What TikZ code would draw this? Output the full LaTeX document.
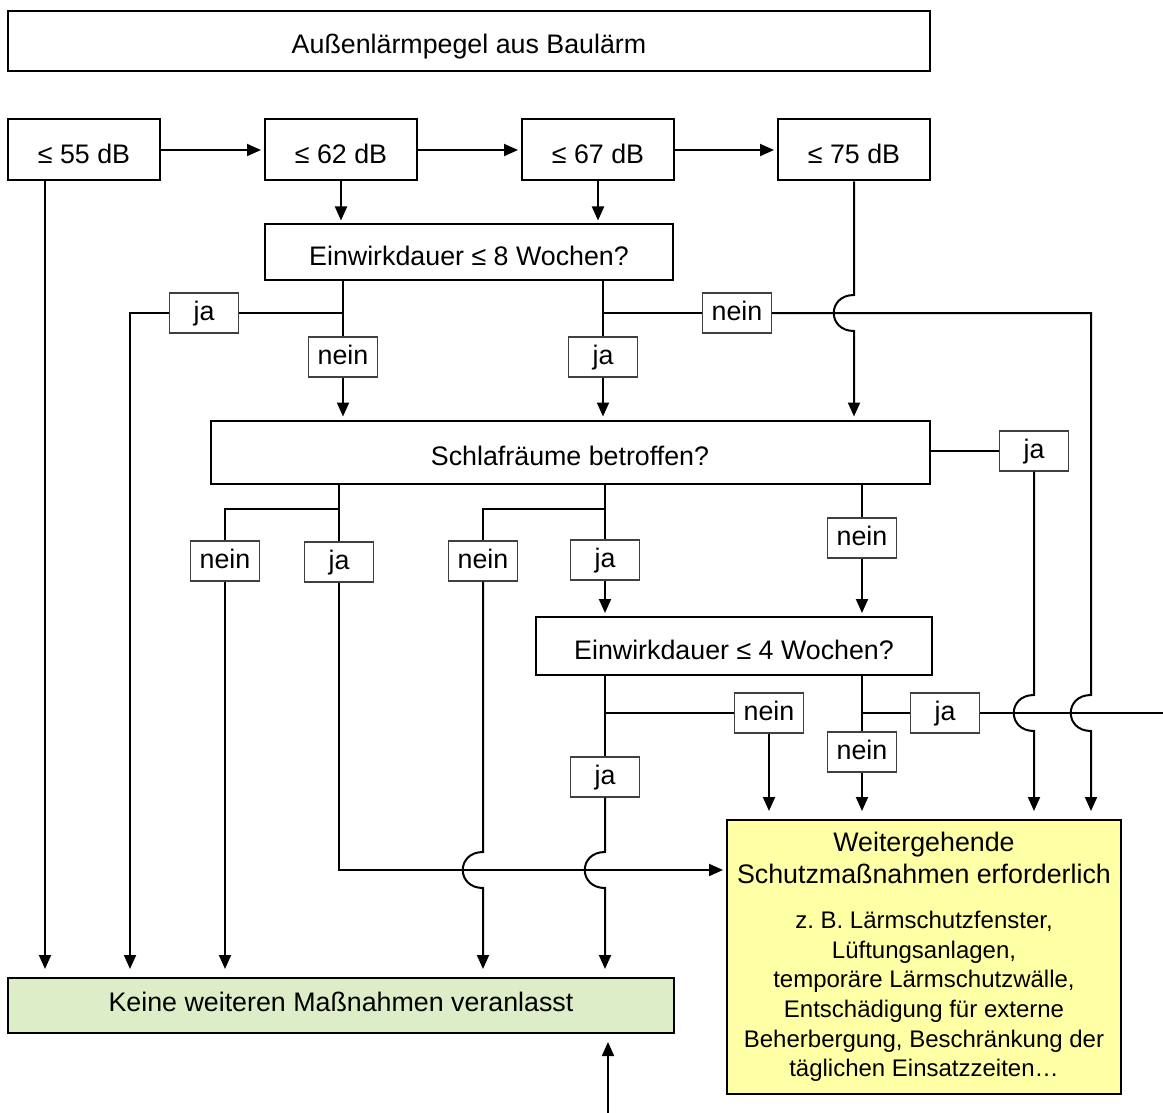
\documentclass[tikz,border=0pt]{standalone}
\usepackage{fontspec}
\setmainfont{Liberation Sans}
\usepackage{tikz}
\usetikzlibrary{arrows.meta, calc, positioning}
\definecolor{keinegruen}{HTML}{DCEDC8}
\definecolor{weitergelb}{HTML}{FFFFA6}

\begin{document}
\frenchspacing
\begin{tikzpicture}[x=0.5pt, y=-0.5pt,
  every node/.style={align=center, font=\fontsize{13.4}{16}\selectfont},
  box/.style={draw, line width=1pt, inner sep=0pt},
  frage/.style={box, text height=13pt, text depth=0pt},
  pegel/.style={frage, minimum width=76pt, minimum height=30.5pt},
  lbl/.style={draw=black!75, line width=0.7pt, fill=white, minimum width=34.5pt, minimum height=20pt, inner sep=0pt, text height=9.6pt, text depth=2.6pt},
  line/.style={line width=1pt},
  arr/.style={line width=1pt, -{Triangle[width=6pt,length=7pt]}, shorten >=1.5pt},
  kurz/.style={shorten >=4pt}]
\useasboundingbox (0,0) rectangle (1163,1113);

% Base nodes
\node (titel) [frage, minimum width=461pt, minimum height=30pt] at (469,41) {Außenlärmpegel aus Baulärm};
\node (d55) [pegel] at (84,150) {≤ 55 dB};
\node (d62) [pegel] at (341,150) {≤ 62 dB};
\node (d67) [pegel] at (598,150) {≤ 67 dB};
\node (d75) [pegel] at (854,150) {≤ 75 dB};
\node (e8) [frage, minimum width=204pt, minimum height=27.5pt] at (469,252) {Einwirkdauer ≤ 8 Wochen?};
\node (schlaf) [frage, minimum width=359.5pt, minimum height=31.5pt] at (570,452) {Schlafräume betroffen?};
\node (e4) [frage, minimum width=198pt, minimum height=29pt] at (734,646) {Einwirkdauer ≤ 4 Wochen?};
\node (keine) [box, text height=9.6pt, text depth=4pt, fill=keinegruen, minimum width=333pt, minimum height=27.5pt] at (341,1005.5) {Keine weiteren Maßnahmen veranlasst};
\node (weiter) [box, fill=weitergelb, minimum width=197pt, minimum height=137pt, text width=196pt, align=flush center] at (924,957)
  {{\fontsize{13.4}{16}\selectfont Weitergehende\\Schutzmaßnahmen erforderlich\par}\vspace{7.7pt}
   {\fontsize{12}{14.8}\selectfont z. B. Lärmschutzfenster,\\Lüftungsanlagen,\\temporäre Lärmschutzwälle,\\Entschädigung für externe\\Beherbergung, Beschränkung der\\täglichen Einsatzzeiten…\par}};

% Answer labels
\node (ja1) [lbl] at (204,313) {ja};
\node (nein1) [lbl] at (343,357) {nein};
\node (ja2) [lbl] at (603,357) {ja};
\node (nein2) [lbl] at (737,313) {nein};
\node (ja3) [lbl] at (1034,451) {ja};
\node (nein3) [lbl] at (225,561) {nein};
\node (ja4) [lbl] at (339,562) {ja};
\node (nein4) [lbl] at (483,561) {nein};
\node (ja5) [lbl] at (605,560) {ja};
\node (nein5) [lbl] at (862,538) {nein};
\node (nein6) [lbl] at (769,713) {nein};
\node (ja6) [lbl] at (605,777) {ja};
\node (ja7) [lbl] at (945,713) {ja};
\node (nein7) [lbl] at (862,752) {nein};

% Helper points
\coordinate (l55) at ([xshift=-19.5pt]d55.south);
\coordinate (links) at (130,313);
\coordinate (rechts) at (1091,313);
\coordinate (gabel) at (0,509);
\coordinate (quer) at (0,870);
\coordinate (rand) at (1163,713);
\coordinate (unten) at (608,1113);

% Level row
\draw[arr] (d55) -- (d62);
\draw[arr] (d62) -- (d67);
\draw[arr] (d67) -- (d75);
\draw[arr, kurz] (l55) -- (l55 |- keine.north);
\draw[arr] (d62) -- (d62 |- e8.north);
\draw[arr] (d67) -- (d67 |- e8.north);
\draw[arr] (d75) -- ($(d75 |- nein2)+(0,-18)$) .. controls +(-27,0) and +(-27,0) .. ($(d75 |- nein2)+(0,18)$) -- (d75 |- schlaf.north);

% Einwirkdauer 8 Wochen
\draw[line] (e8.south -| nein1) -- (nein1);
\draw[arr] (nein1) -- (nein1 |- schlaf.north);
\draw[line] (nein1 |- ja1) -- (ja1);
\draw[arr, kurz] (ja1) -- (links) -- (links |- keine.north);
\draw[line] (e8.south -| ja2) -- (ja2);
\draw[arr] (ja2) -- (ja2 |- schlaf.north);
\draw[line] (ja2 |- nein2) -- (nein2);
\draw[arr, kurz] (nein2) -- (rechts) -- ($(rechts |- ja7)+(0,-18)$) .. controls +(-27,0) and +(-27,0) .. ($(rechts |- ja7)+(0,18)$) -- (rechts |- weiter.north);

% Schlafraeume
\draw[line] (schlaf.east |- ja3) -- (ja3);
\draw[arr, kurz] (ja3) -- ($(ja3 |- ja7)+(0,-18)$) .. controls +(-27,0) and +(-27,0) .. ($(ja3 |- ja7)+(0,18)$) -- (ja3 |- weiter.north);
\draw[line] (schlaf.south -| ja4) -- (ja4);
\draw[line] (ja4 |- gabel) -- (nein3 |- gabel) -- (nein3);
\draw[arr, kurz] (nein3) -- (nein3 |- keine.north);
\draw[arr] (ja4) -- (ja4 |- quer) -- (weiter.west |- quer);
\draw[line] (schlaf.south -| ja5) -- (ja5);
\draw[arr] (ja5) -- (ja5 |- e4.north);
\draw[line] (ja5 |- gabel) -- (nein4 |- gabel) -- (nein4);
\draw[arr, kurz] (nein4) -- ($(nein4 |- quer)+(0,-18)$) .. controls +(-27,0) and +(-27,0) .. ($(nein4 |- quer)+(0,18)$) -- (nein4 |- keine.north);
\draw[line] (schlaf.south -| nein5) -- (nein5);
\draw[arr] (nein5) -- (nein5 |- e4.north);

% Einwirkdauer 4 Wochen
\draw[line] (e4.south -| ja6) -- (ja6);
\draw[line] (ja6 |- nein6) -- (nein6);
\draw[arr, kurz] (nein6) -- (nein6 |- weiter.north);
\draw[arr, kurz] (ja6) -- ($(ja6 |- quer)+(0,-18)$) .. controls +(-27,0) and +(-27,0) .. ($(ja6 |- quer)+(0,18)$) -- (ja6 |- keine.north);
\draw[line] (e4.south -| nein7) -- (nein7);
\draw[line] (nein7 |- ja7) -- (ja7);
\draw[line] (ja7) -- (rand);
\draw[arr, kurz] (nein7) -- (nein7 |- weiter.north);

% Loose end below
\draw[arr, kurz] (unten) -- (unten |- keine.south);
\end{tikzpicture}
\end{document}
